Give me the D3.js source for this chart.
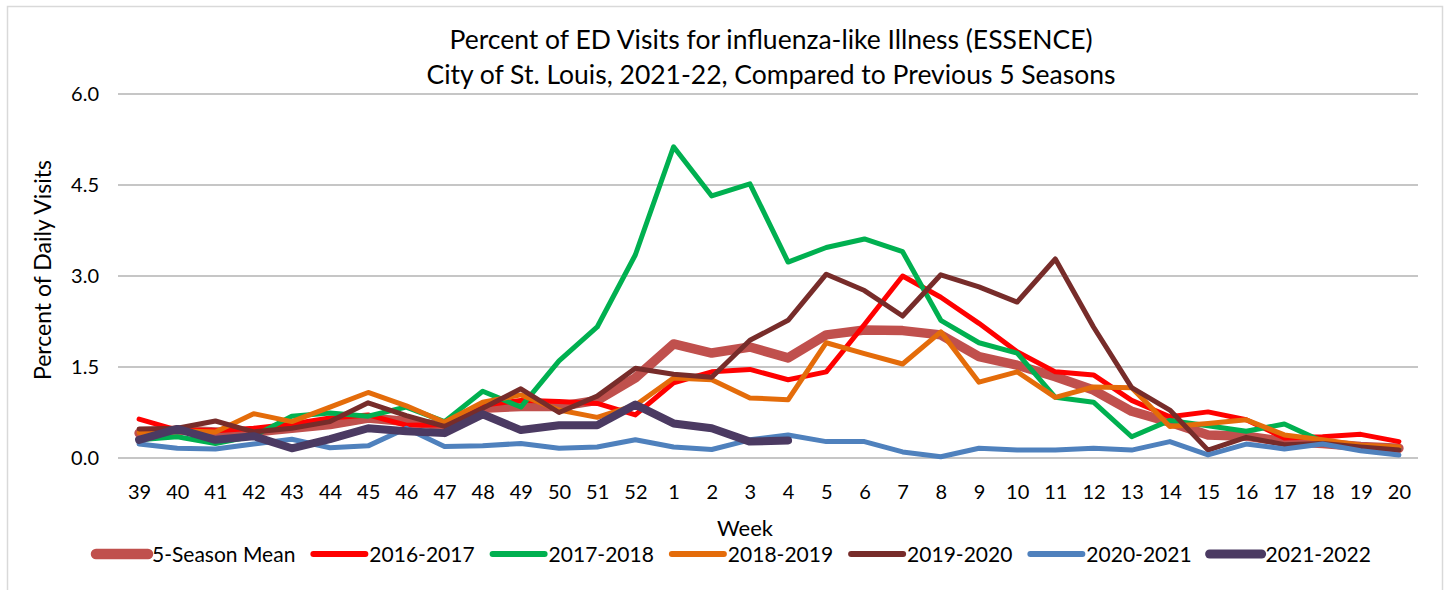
<!DOCTYPE html>
<html>
<head>
<meta charset="utf-8">
<script src="https://cdn.jsdelivr.net/npm/d3@7"></script>
<style>
  body { margin: 0; background: #fff; }
  text { font-family: Lato, "Open Sans", sans-serif; fill: #000; }
</style>
</head>
<body>
<svg width="1447" height="590"></svg>
<script>
const weeks = ['39','40','41','42','43','44','45','46','47','48','49','50','51','52',
  '1','2','3','4','5','6','7','8','9','10','11','12','13','14','15','16','17','18','19','20']

const mean5 = [0.41,0.46,0.43,0.43,0.49,0.55,0.66,0.6,0.53,0.82,0.85,0.85,0.95,1.32,
  1.88,1.73,1.83,1.65,2.03,2.11,2.1,2.03,1.67,1.53,1.34,1.12,0.77,0.59,0.38,0.36,0.27,0.24,0.19,0.16]
const s1617 = [0.64,0.46,0.45,0.49,0.56,0.66,0.71,0.54,0.55,0.87,0.95,0.93,0.9,0.71,
  1.24,1.42,1.46,1.29,1.42,2.2,3.0,2.65,2.22,1.75,1.42,1.37,0.95,0.68,0.76,0.63,0.33,0.35,0.39,0.27]
const s1718 = [0.3,0.35,0.24,0.36,0.69,0.74,0.69,0.84,0.6,1.1,0.84,1.6,2.16,3.35,
  5.13,4.32,4.52,3.23,3.47,3.61,3.4,2.27,1.9,1.73,1.0,0.92,0.35,0.62,0.53,0.44,0.56,0.27,0.2,0.15]
const s1819 = [0.42,0.45,0.43,0.73,0.6,0.84,1.08,0.86,0.59,0.92,1.04,0.79,0.67,0.87,
  1.32,1.29,0.99,0.96,1.9,1.72,1.55,2.08,1.25,1.42,1.0,1.17,1.16,0.52,0.57,0.63,0.38,0.3,0.21,0.18]
const s1920 = [0.48,0.49,0.61,0.43,0.49,0.6,0.91,0.7,0.52,0.82,1.14,0.75,1.02,1.48,
  1.38,1.33,1.94,2.27,3.03,2.76,2.34,3.02,2.82,2.57,3.28,2.16,1.16,0.79,0.13,0.34,0.22,0.24,0.18,0.13]
const s2021 = [0.23,0.16,0.15,0.23,0.31,0.17,0.2,0.49,0.19,0.2,0.24,0.16,0.18,0.3,
  0.18,0.14,0.3,0.38,0.27,0.27,0.1,0.02,0.16,0.13,0.13,0.16,0.13,0.27,0.05,0.23,0.15,0.23,0.12,0.05]
const s2122 = [0.3,0.48,0.3,0.36,0.16,0.31,0.49,0.44,0.41,0.72,0.46,0.54,0.54,0.88,
  0.57,0.49,0.27,0.29]

const yTicks = [0, 1.5, 3, 4.5, 6]

const series = [
  {name: '5-Season Mean', values: mean5, color: '#c0504d', w: 9.5},
  {name: '2016-2017', values: s1617, color: '#ff0000', w: 5},
  {name: '2017-2018', values: s1718, color: '#00b050', w: 5},
  {name: '2018-2019', values: s1819, color: '#e46c0a', w: 5},
  {name: '2019-2020', values: s1920, color: '#772c2a', w: 5},
  {name: '2020-2021', values: s2021, color: '#4f81bd', w: 5},
  {name: '2021-2022', values: s2122, color: '#4b3a62', w: 8}
]

const svg = d3.select('svg')

// outer chart frame
svg.append('rect')
  .attr('x', 7.5).attr('y', 6.5).attr('width', 1435).attr('height', 620)
  .attr('fill', 'none').attr('stroke', '#d9d9d9').attr('stroke-width', 1.5)

const left = 118, right = 1418
const xScale = d3.scalePoint().domain(weeks).range([left + 2, right]).padding(0.5)
const yScale = d3.scaleLinear().domain([0, 6]).range([458, 94])

// gridlines
svg.append('g').selectAll('line').data(yTicks)
  .enter().append('line')
  .attr('x1', left).attr('x2', right)
  .attr('y1', d => yScale(d)).attr('y2', d => yScale(d))
  .attr('stroke', '#c6c6c6').attr('stroke-width', 2)

const yAxis = d3.axisLeft(yScale).tickValues(yTicks).tickFormat(d3.format('.1f')).tickSize(0).tickPadding(19)
svg.append('g').attr('transform', `translate(${left},0)`).call(yAxis)
  .call(g => g.select('.domain').remove())
  .selectAll('text').style('font-size', '20px').style('font-family', 'Lato, sans-serif')

const xAxis = d3.axisBottom(xScale).tickSize(0).tickPadding(27)
svg.append('g').attr('transform', `translate(0,458)`).call(xAxis)
  .call(g => g.select('.domain').remove())
  .selectAll('text').style('font-size', '20px').style('font-family', 'Lato, sans-serif')

// lines
const line = d3.line()
  .defined(d => d != null)
  .x((d, i) => xScale(weeks[i]))
  .y(d => yScale(d))

svg.append('g').selectAll('path').data(series)
  .enter().append('path')
  .attr('d', d => line(d.values))
  .attr('fill', 'none')
  .attr('stroke', d => d.color)
  .attr('stroke-width', d => d.w)
  .attr('stroke-linejoin', 'round')
  .attr('stroke-linecap', 'round')

// titles
svg.append('text').attr('x', 771).attr('y', 49).attr('text-anchor', 'middle')
  .style('font-size', '26.5px').text('Percent of ED Visits for influenza-like Illness (ESSENCE)')
svg.append('text').attr('x', 771).attr('y', 84).attr('text-anchor', 'middle')
  .style('font-size', '26.5px').text('City of St. Louis, 2021-22, Compared to Previous 5 Seasons')

svg.append('text').attr('transform', 'translate(51,270) rotate(-90)')
  .attr('text-anchor', 'middle').style('font-size', '23px').text('Percent of Daily Visits')

svg.append('text').attr('x', 745).attr('y', 536).attr('text-anchor', 'middle')
  .style('font-size', '22px').text('Week')

// legend
const legend = svg.append('g')
let lx = 92
series.forEach(s => {
  const g = legend.append('g')
  g.append('line')
    .attr('x1', lx + 4).attr('x2', lx + 56)
    .attr('y1', 554).attr('y2', 554)
    .attr('stroke', s.color).attr('stroke-width', s.w + 1)
    .attr('stroke-linecap', 'round')
  const t = g.append('text').attr('x', lx + 60).attr('y', 561.5)
    .style('font-size', '21px').text(s.name)
  lx += 60 + t.node().getComputedTextLength() + 14
})
</script>
</body>
</html>
